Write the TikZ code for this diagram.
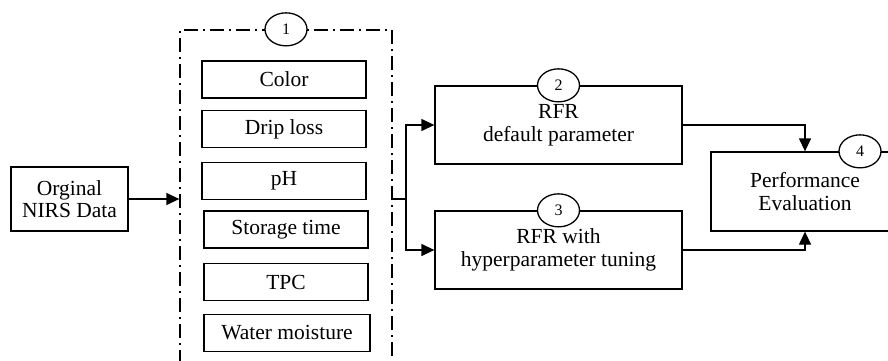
\documentclass[tikz,border=0pt]{standalone}
\usepackage{fontspec}
\setmainfont{Liberation Serif}
\usetikzlibrary{arrows.meta,shapes.geometric}
\begin{document}
\begin{tikzpicture}[x=1pt,y=-1pt,
  box/.style={draw,line width=1.3pt,inner sep=0pt,align=center,font=\fontsize{21.5}{22.5}\selectfont},
  item/.style={box,minimum width=164pt,minimum height=37pt},
  num/.style={draw,ellipse,fill=white,line width=1.3pt,minimum width=42pt,minimum height=33pt,inner sep=0pt,font=\fontsize{16}{17}\selectfont},
  grpbox/.style={draw,line width=1.3pt,dash pattern=on 14pt off 5pt on 2pt off 5pt,minimum width=212pt,minimum height=400pt,inner sep=0pt},
  conn/.style={line width=1.3pt},
  arr/.style={conn,-{Triangle[length=13pt,width=12pt]}}]
\clip (0,0) rectangle (888,361);
\fill[white] (0,0) rectangle (888,361);
% container
\node[grpbox] (grp) at (286,230) {};
\node[num] (n1) at (grp.north) {1};
% items
\node[item] (color) at (284,79.5) {Color};
\node[item] (drip) at (284,129) {Drip loss};
\node[item] (ph) at (284,181) {pH};
\node[item] (stor) at (286,229.5) {Storage time};
\node[item] (tpc) at (286,282) {TPC};
\node[item,minimum width=166pt] (water) at (287,333) {Water moisture};
% original
\node[box,minimum width=117pt,minimum height=64pt] (orig) at (69.5,199) {Orginal\\NIRS Data};
% RFR boxes
\node[box,minimum width=247pt,minimum height=78pt] (rfr1) at (558.5,125) {RFR\\default parameter};
\node[num] (n2) at (rfr1.north) {2};
\node[box,minimum width=247pt,minimum height=78pt] (rfr2) at (558.5,250) {RFR with\\hyperparameter tuning};
\node[num] (n3) at (rfr2.north) {3};
% performance
\node[box,minimum width=188pt,minimum height=79pt] (perf) at (805,191.5) {Performance\\Evaluation};
\node[num] (n4) at ([xshift=55pt]perf.north) {4};
% connectors
\draw[arr] (orig.east) -- (orig -| grp.west);
\coordinate (br) at (406,199);
\draw[conn] (orig -| grp.east) -- (br);
\draw[arr] (br) |- (rfr1.west);
\draw[arr] (br) |- (rfr2.west);
\draw[arr] (rfr1.east) -| (perf.north);
\draw[arr] (rfr2.east) -| (perf.south);
\end{tikzpicture}
\end{document}
